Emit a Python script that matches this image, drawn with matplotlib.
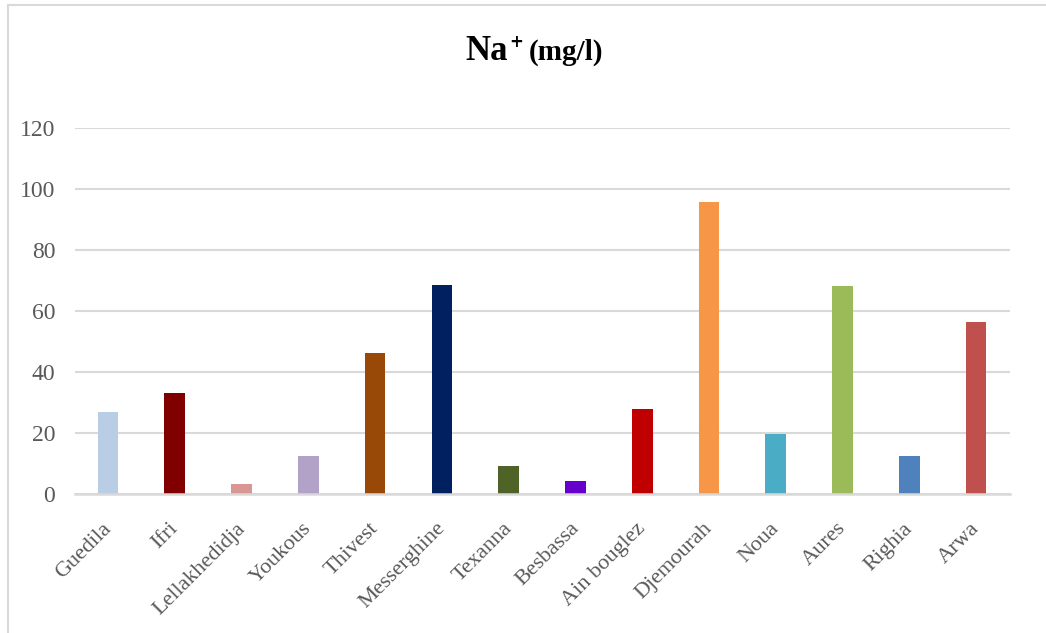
import matplotlib.pyplot as plt
import matplotlib.transforms as mtransforms
from matplotlib.lines import Line2D

sites = ['Guedila', 'Ifri', 'Lellakhedidja', 'Youkous', 'Thivest', 'Messerghine',
         'Texanna', 'Besbassa', 'Ain bouglez', 'Djemourah', 'Noua', 'Aures',
         'Righia', 'Arwa']
na_values = [27, 33.2, 3.3, 12.6, 46.3, 68.6, 9.3, 4.4, 28, 95.7, 19.8, 68.3, 12.6, 56.5]
bar_colors = ['#b9cde5', '#800000', '#d99694', '#b3a2c7', '#984807', '#002060',
              '#4f6228', '#6600cc', '#c00000', '#f79646', '#4bacc6', '#9bbb59',
              '#4f81bd', '#c0504d']
y_ticks = [0, 20, 40, 60, 80, 100, 120]

plt.rcParams['font.family'] = ['Liberation Serif', 'DejaVu Serif']

W, H = 1046, 633
fig = plt.figure(figsize=(W / 100, H / 100), dpi=100)
ax = fig.add_axes([74.6 / W, 1 - 494 / H, (1009.5 - 74.6) / W, (494 - 128) / H])

x = range(len(sites))
ax.bar(x, na_values, width=0.31, color=bar_colors, zorder=3)

ax.set_xlim(-0.5, len(sites) - 0.5)
ax.set_ylim(0, 120)
ax.set_yticks(y_ticks)
ax.set_xticks(list(x))
ax.set_xticklabels(sites, rotation=45, ha='right', rotation_mode='anchor',
                   fontsize=16, color='#595959')
ax.tick_params(axis='y', length=0, pad=14, labelsize=17, labelcolor='#595959')
ax.tick_params(axis='x', length=0, pad=18)
shift = mtransforms.ScaledTranslation(-6 / 100, 0, fig.dpi_scale_trans)
for lbl in ax.get_xticklabels():
    lbl.set_transform(lbl.get_transform() + shift)
ax.grid(axis='y', color='#d9d9d9', linewidth=1.5, zorder=0)
for side in ['top', 'right', 'left']:
    ax.spines[side].set_visible(False)
ax.spines['bottom'].set_color('#d9d9d9')
ax.spines['bottom'].set_linewidth(1.8)
ax.spines['bottom'].set_zorder(4)

# title: Na+ (mg/l)
base_y = 1 - 60 / H
fig.text(465 / W, base_y, 'Na', fontsize=25, fontweight='bold', ha='left', va='baseline')
fig.text(509 / W, 1 - 47 / H, '+', fontsize=12, fontweight='bold', family='DejaVu Sans',
         ha='left', va='baseline')
fig.text(529 / W, base_y, '(mg/l)', fontsize=21, fontweight='bold', ha='left', va='baseline')

# chart border (top and left visible)
fig.add_artist(Line2D([8 / W, 1], [1 - 5 / H, 1 - 5 / H], color='#d9d9d9', linewidth=1.5))
fig.add_artist(Line2D([8 / W, 8 / W], [0, 1 - 5 / H], color='#d9d9d9', linewidth=1.5))

fig.savefig('out.png', dpi=100)
